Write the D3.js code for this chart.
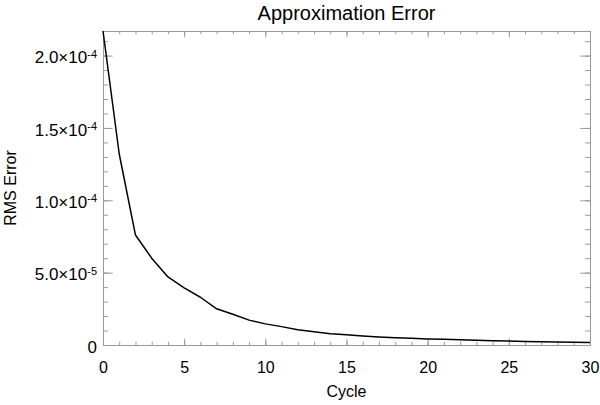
<!DOCTYPE html>
<html>
<head>
<meta charset="utf-8">
<script src="https://cdn.jsdelivr.net/npm/d3@7"></script>
<style>
  html, body { margin: 0; padding: 0; background: #fff; }
  svg { display: block; font-family: "Liberation Sans", Arial, Helvetica, sans-serif; }
</style>
</head>
<body>
<svg id="chart" width="600" height="405"></svg>
<script>
// ---- data ----
const cycles = d3.range(0, 31);
const rmsError = [
  2.17e-4, 1.32e-4, 7.6e-5, 6.0e-5, 4.7e-5, 3.95e-5, 3.3e-5, 2.5e-5, 2.12e-5, 1.72e-5,
  1.46e-5, 1.27e-5, 1.06e-5, 0.91e-5, 0.78e-5, 0.70e-5, 0.62e-5, 0.56e-5, 0.50e-5, 0.46e-5,
  0.42e-5, 0.39e-5, 0.36e-5, 0.33e-5, 0.30e-5, 0.28e-5, 0.25e-5, 0.23e-5, 0.21e-5, 0.19e-5,
  0.17e-5
];
const xMajorTicks = [0, 5, 10, 15, 20, 25, 30];
const xMinorTicks = d3.range(0, 31);
const yMajorTicks = [0, 5e-5, 1e-4, 1.5e-4, 2e-4];
const yMajorMantissa = ["0", "5.0", "1.0", "1.5", "2.0"];
const yMajorExponent = ["", "-5", "-4", "-4", "-4"];
const yMinorTicks = d3.range(0, 22).map(i => i * 1e-5);
const titleText = "Approximation Error";
const xLabel = "Cycle";
const yLabel = "RMS Error";

// ---- layout ----
const svg = d3.select("#chart");
const L = 103, R = 590, T = 31, B = 345;
const axisColor = "#999";

const x = d3.scaleLinear().domain([0, 30]).range([L, R]);
const y = d3.scaleLinear().domain([0, d3.max(rmsError)]).range([B, T]);

const xMajLen = 6.3, xMinLen = 3.2, yMajLen = 9.7, yMinLen = 4.9;

function styleAxis(g) {
  g.select(".domain").attr("stroke", axisColor).attr("stroke-width", 1);
  g.selectAll(".tick line").attr("stroke", axisColor).attr("stroke-width", 1);
}

// bottom minor
svg.append("g").attr("transform", `translate(0,${B})`)
  .call(d3.axisBottom(x).tickValues(xMinorTicks).tickSize(-xMinLen).tickSizeOuter(0).tickFormat(""))
  .call(styleAxis);
// bottom major
const xb = svg.append("g").attr("transform", `translate(0,${B})`)
  .call(d3.axisBottom(x).tickValues(xMajorTicks).tickSize(-xMajLen).tickSizeOuter(0).tickPadding(17).tickFormat(d3.format("d")))
  .call(styleAxis);
xb.selectAll(".tick text").attr("fill", "#000").attr("font-size", 16)
  .attr("font-family", "Liberation Sans, Arial, sans-serif");
// top minor / major
svg.append("g").attr("transform", `translate(0,${T})`)
  .call(d3.axisTop(x).tickValues(xMinorTicks).tickSize(-xMinLen).tickSizeOuter(0).tickFormat(""))
  .call(styleAxis);
svg.append("g").attr("transform", `translate(0,${T})`)
  .call(d3.axisTop(x).tickValues(xMajorTicks).tickSize(-xMajLen).tickSizeOuter(0).tickFormat(""))
  .call(styleAxis);

// left minor
svg.append("g").attr("transform", `translate(${L},0)`)
  .call(d3.axisLeft(y).tickValues(yMinorTicks).tickSize(-yMinLen).tickSizeOuter(0).tickFormat(""))
  .call(styleAxis);
// left major
const yl = svg.append("g").attr("transform", `translate(${L},0)`)
  .call(d3.axisLeft(y).tickValues(yMajorTicks).tickSize(-yMajLen).tickSizeOuter(0).tickPadding(6).tickFormat(""))
  .call(styleAxis);
yl.selectAll(".tick text").each(function(d, i) {
  const t = d3.select(this)
    .attr("fill", "#000").attr("font-size", 17)
    .attr("font-family", "Liberation Sans, Arial, sans-serif")
    .attr("dy", "0.42em");
  t.text(null);
  t.append("tspan").text(yMajorMantissa[i] + (yMajorExponent[i] ? "\u00d710" : ""));
  if (yMajorExponent[i]) {
    t.append("tspan").attr("dy", "-0.5em").attr("font-size", 11).text(yMajorExponent[i]);
  }
});
// right minor / major
svg.append("g").attr("transform", `translate(${R},0)`)
  .call(d3.axisRight(y).tickValues(yMinorTicks).tickSize(-yMinLen).tickSizeOuter(0).tickFormat(""))
  .call(styleAxis);
svg.append("g").attr("transform", `translate(${R},0)`)
  .call(d3.axisRight(y).tickValues(yMajorTicks).tickSize(-yMajLen).tickSizeOuter(0).tickFormat(""))
  .call(styleAxis);

// ---- line ----
const line = d3.line().x((d, i) => x(cycles[i])).y(d => y(d));
svg.append("path")
  .datum(rmsError)
  .attr("fill", "none")
  .attr("stroke", "#000")
  .attr("stroke-width", 1.5)
  .attr("stroke-linejoin", "round")
  .attr("d", line);

// ---- titles ----
svg.append("text")
  .attr("x", (L + R) / 2).attr("y", 20)
  .attr("text-anchor", "middle").attr("font-size", 20).attr("fill", "#000")
  .text(titleText);
svg.append("text")
  .attr("x", (L + R) / 2).attr("y", 397)
  .attr("text-anchor", "middle").attr("font-size", 16).attr("fill", "#000")
  .text(xLabel);
svg.append("text")
  .attr("transform", `translate(16,${(T + B) / 2}) rotate(-90)`)
  .attr("text-anchor", "middle").attr("font-size", 16).attr("fill", "#000")
  .text(yLabel);
</script>
</body>
</html>
